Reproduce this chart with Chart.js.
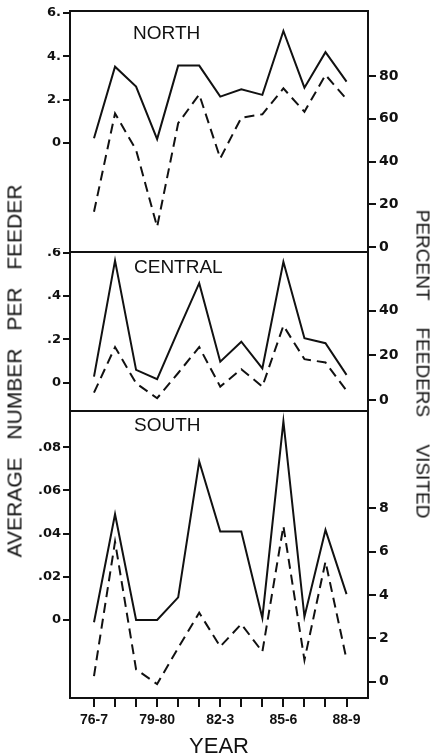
<!DOCTYPE html>
<html>
<head>
<meta charset="utf-8">
<script src="https://cdn.jsdelivr.net/npm/chart.js@4"></script>
<style>
    html, body { margin: 0; padding: 0; background: #fff; overflow: hidden; width: 433px; height: 754px; }
    canvas { position: absolute; left: 0; }
    .lbl { position: absolute; font-family: 'Liberation Sans', Arial, sans-serif; color: #111; white-space: nowrap; line-height: 1; }
    .up { transform: translate(-50%, -50%) rotate(-90deg); }
    .down { transform: translate(-50%, -50%) rotate(90deg); }
</style>
</head>
<body>
<canvas id="north" width="433" height="256" style="top:0"></canvas>
<canvas id="central" width="433" height="167" style="top:248px"></canvas>
<canvas id="south" width="433" height="353" style="top:407px"></canvas>

<div class="lbl" style="left:133px;top:22.5px;font-size:19px">NORTH</div>
<div class="lbl" style="left:134px;top:256.5px;font-size:19px">CENTRAL</div>
<div class="lbl" style="left:134px;top:414.5px;font-size:19px">SOUTH</div>
<div class="lbl up" style="left:14px;top:371px;font-size:21px;word-spacing:12px">AVERAGE NUMBER PER FEEDER</div>
<div class="lbl down" style="left:423px;top:364px;font-size:19px;word-spacing:22px">PERCENT FEEDERS VISITED</div>

<script>
// seasons on the x axis, only some of them are labelled
const years = ['76-7', '77-8', '78-9', '79-80', '80-1', '81-2', '82-3', '83-4', '84-5', '85-6', '86-7', '87-8', '88-9'];
const shownYears = ['76-7', '79-80', '82-3', '85-6', '88-9'];

// solid line = average number per feeder (left axis), dashed = percent feeders visited (right axis)
const northAvg = [0.22, 3.52, 2.60, 0.18, 3.57, 3.57, 2.14, 2.48, 2.22, 5.17, 2.55, 4.19, 2.83];
const northPct = [16.5, 62.5, 45.4, 9.5, 57.9, 71.4, 41.5, 60.5, 62.1, 74.2, 63.3, 80.5, 69.2];
const centralAvg = [0.028, 0.563, 0.059, 0.016, 0.24, 0.459, 0.097, 0.189, 0.066, 0.558, 0.205, 0.182, 0.036];
const centralPct = [3.3, 23.7, 7.5, 0.8, 12.1, 23.7, 6.0, 13.8, 6.0, 33.3, 18.3, 16.8, 4.2];
const southAvg = [-0.001, 0.049, 0, 0, 0.0105, 0.0734, 0.041, 0.041, 0.001, 0.092, 0.0015, 0.0417, 0.012];
const southPct = [0.26, 6.46, 0.57, -0.11, 1.56, 3.18, 1.62, 2.66, 1.38, 7.18, 1.0, 5.54, 1.03];

// tick values and their printed labels
const northLeftTicks = [0, 2, 4, 6];
const northLeftLabels = ['0', '2.', '4.', '6.'];
const northRightTicks = [0, 20, 40, 60, 80];
const centralLeftTicks = [0, 0.2, 0.4, 0.6];
const centralLeftLabels = ['0', '.2', '.4', '.6'];
const centralRightTicks = [0, 20, 40];
const southLeftTicks = [0, 0.02, 0.04, 0.06, 0.08];
const southLeftLabels = ['0', '.02', '.04', '.06', '.08'];
const southRightTicks = [0, 2, 4, 6, 8];

const ink = '#111';

// box around each panel
const framePlugin = {
    id: 'frame',
    afterDraw(chart) {
        const { ctx, chartArea: a } = chart;
        ctx.save();
        ctx.strokeStyle = ink;
        ctx.lineWidth = 2;
        ctx.strokeRect(a.left, a.top, a.right - a.left, a.bottom - a.top);
        ctx.restore();
    }
};

function toPoints(values) {
    return values.map((v, i) => ({ x: i, y: v }));
}

function yAxis(side, range, ticks, labels, width) {
    return {
        type: 'linear',
        position: side,
        min: range[0],
        max: range[1],
        afterBuildTicks: scale => { scale.ticks = ticks.map(v => ({ value: v })); },
        afterFit: scale => {
            scale.width = width;
            // labels must not push the panel edges inwards
            scale.paddingTop = 0;
            scale.paddingBottom = 0;
        },
        border: { display: false },
        grid: { drawOnChartArea: false, drawTicks: true, tickLength: side === 'left' ? 7 : 8, color: ink, lineWidth: 2 },
        ticks: {
            color: ink,
            padding: side === 'left' ? 2 : 3,
            font: { family: 'DejaVu Sans', weight: 'bold', size: side === 'left' ? 13 : 14 },
            callback: v => labels ? labels[ticks.indexOf(v)] : String(v)
        }
    };
}

function xAxis(show) {
    return {
        type: 'linear',
        min: -1.14,
        max: 13.02,
        display: show,
        afterBuildTicks: scale => { scale.ticks = years.map((y, i) => ({ value: i })); },
        afterFit: scale => {
            if (show) scale.height = 62;
            scale.paddingLeft = 0;
            scale.paddingRight = 0;
        },
        border: { display: false },
        grid: { drawOnChartArea: false, drawTicks: true, tickLength: 9, color: ink, lineWidth: 2 },
        ticks: {
            autoSkip: false,
            maxRotation: 0,
            color: ink,
            padding: 5,
            font: { family: 'Liberation Sans', weight: 'bold', size: 14 },
            callback: v => shownYears.includes(years[v]) ? years[v] : ''
        },
        title: {
            display: show,
            text: 'YEAR',
            color: ink,
            padding: { top: 0, bottom: 0 },
            font: { family: 'Liberation Sans', size: 22 }
        }
    };
}

function panel(id, avg, pct, left, right, padding, showX) {
    const ctx = document.getElementById(id).getContext('2d');
    new Chart(ctx, {
        type: 'line',
        data: {
            datasets: [{
                label: 'Average number per feeder',
                data: toPoints(avg),
                yAxisID: 'yLeft',
                borderColor: ink,
                borderWidth: 2,
                pointRadius: 0,
                tension: 0
            }, {
                label: 'Percent feeders visited',
                data: toPoints(pct),
                yAxisID: 'yRight',
                borderColor: ink,
                borderWidth: 2,
                borderDash: [10, 6],
                pointRadius: 0,
                tension: 0
            }]
        },
        options: {
            responsive: false,
            animation: false,
            layout: { padding: padding },
            plugins: { legend: { display: false }, tooltip: { enabled: false } },
            scales: {
                x: xAxis(showX),
                yLeft: yAxis('left', left.range, left.ticks, left.labels, 70),
                yRight: yAxis('right', right.range, right.ticks, null, 65)
            }
        },
        plugins: [framePlugin]
    });
}

panel('north', northAvg, northPct,
    { range: [-5.03, 6.09], ticks: northLeftTicks, labels: northLeftLabels },
    { range: [-2.3, 110.4], ticks: northRightTicks },
    { top: 11, bottom: 4, left: 0, right: 0 }, false);

panel('central', centralAvg, centralPct,
    { range: [-0.1306, 0.603], ticks: centralLeftTicks, labels: centralLeftLabels },
    { range: [-4.93, 66.3], ticks: centralRightTicks },
    { top: 4, bottom: 4, left: 0, right: 0 }, false);

panel('south', southAvg, southPct,
    { range: [-0.0361, 0.0968], ticks: southLeftTicks, labels: southLeftLabels },
    { range: [-0.752, 12.49], ticks: southRightTicks },
    { top: 4, bottom: 0, left: 0, right: 0 }, true);
</script>
</body>
</html>
